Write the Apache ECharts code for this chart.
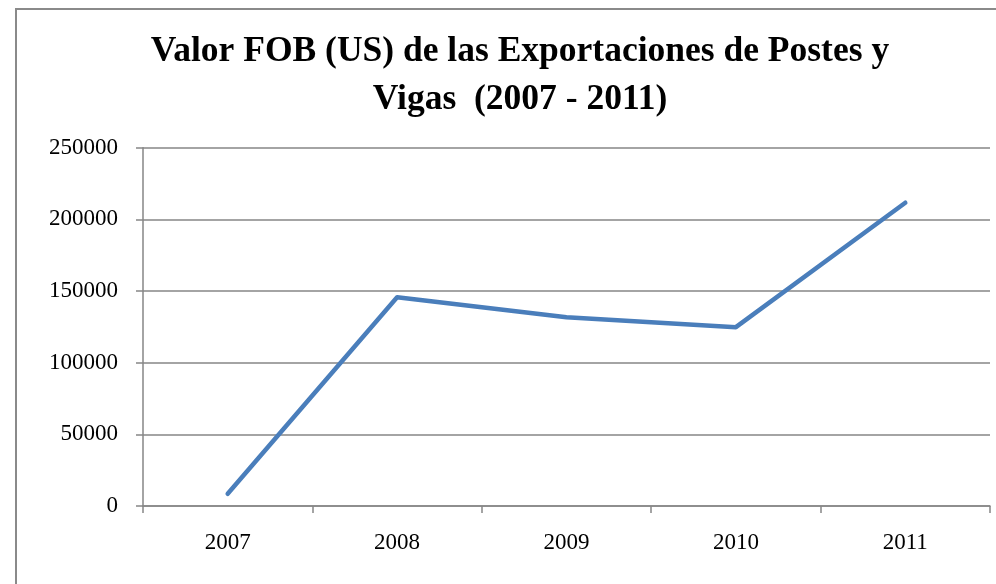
<!DOCTYPE html>
<html>
<head>
<meta charset="utf-8">
<script src="https://cdn.jsdelivr.net/npm/echarts@6/dist/echarts.min.js"></script>
<style>
html,body{margin:0;padding:0;background:#fff;}
#chart{width:996px;height:584px;}
</style>
</head>
<body>
<div id="chart"></div>
<script>
const titleText = 'Valor FOB (US) de las Exportaciones de Postes y\nVigas  (2007 - 2011)';
const categories = ['2007', '2008', '2009', '2010', '2011'];
const fobValues = [8500, 145700, 131700, 124800, 211600];
const yTicks = [0, 50000, 100000, 150000, 200000, 250000];

const chart = echarts.init(document.getElementById('chart'), null, {renderer: 'canvas'});
const serif = '"Liberation Serif", "Times New Roman", serif';
chart.setOption({
  backgroundColor: '#ffffff',
  animation: false,
  graphic: [{
    type: 'rect',
    shape: {x: 16, y: 9, width: 1200, height: 800},
    style: {fill: 'none', stroke: '#8a8a8a', lineWidth: 2},
    silent: true
  }],
  title: {
    text: titleText,
    left: 515,
    top: 23,
    textAlign: 'center',
    textStyle: {
      fontFamily: serif,
      fontWeight: 'bold',
      fontSize: 35.5,
      lineHeight: 48,
      color: '#000'
    }
  },
  grid: {left: 143, right: 6, top: 147.7, bottom: 78, containLabel: false},
  xAxis: {
    type: 'category',
    data: categories,
    boundaryGap: true,
    axisLine: {show: true, lineStyle: {color: '#868686', width: 1.5}},
    axisTick: {show: true, length: 7, alignWithLabel: false, lineStyle: {color: '#868686', width: 1.5}},
    axisLabel: {margin: 25, fontFamily: serif, fontSize: 23, color: '#000'},
    splitLine: {show: false}
  },
  yAxis: {
    type: 'value',
    min: yTicks[0],
    max: yTicks[yTicks.length - 1],
    interval: yTicks[1] - yTicks[0],
    axisLine: {show: true, lineStyle: {color: '#868686', width: 1.5}},
    axisTick: {show: true, length: 7, inside: false, lineStyle: {color: '#868686', width: 1.5}},
    axisLabel: {margin: 25, fontFamily: serif, fontSize: 23, color: '#000', formatter: function (v) { return String(v); }},
    splitLine: {show: true, lineStyle: {color: '#868686', width: 1.5}}
  },
  series: [{
    type: 'line',
    data: fobValues,
    symbol: 'none',
    lineStyle: {color: '#4a7ebb', width: 4.5, cap: 'round', join: 'round'},
    itemStyle: {color: '#4a7ebb'}
  }]
});
</script>
</body>
</html>
